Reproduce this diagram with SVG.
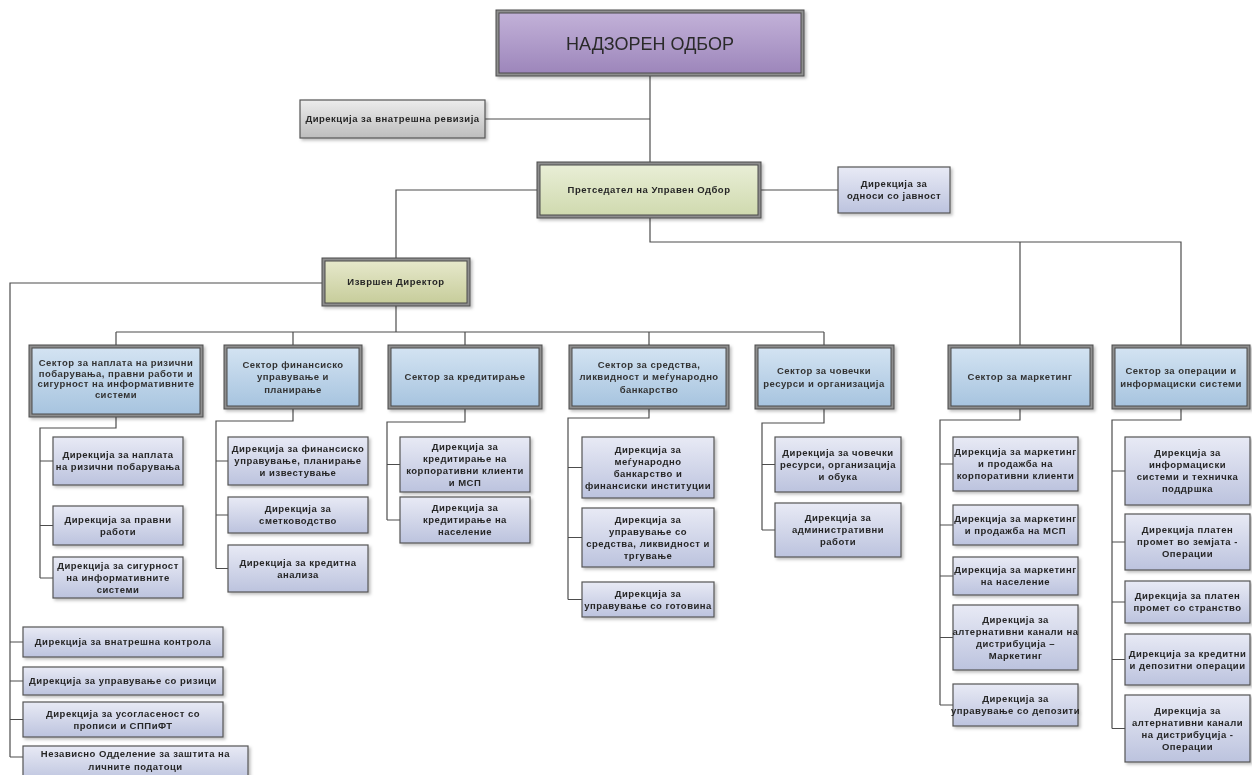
<svg xmlns="http://www.w3.org/2000/svg" width="1252" height="775" viewBox="0 0 1252 775">
<defs>
<linearGradient id="gPurple" x1="0" y1="0" x2="0" y2="1"><stop offset="0" stop-color="#c2b1d8"/><stop offset="1" stop-color="#9d86bb"/></linearGradient>
<linearGradient id="gGreen" x1="0" y1="0" x2="0" y2="1"><stop offset="0" stop-color="#e9eed6"/><stop offset="1" stop-color="#d0daaf"/></linearGradient>
<linearGradient id="gOlive" x1="0" y1="0" x2="0" y2="1"><stop offset="0" stop-color="#e6e8cb"/><stop offset="1" stop-color="#c7cd9b"/></linearGradient>
<linearGradient id="gBlue" x1="0" y1="0" x2="0" y2="1"><stop offset="0" stop-color="#d3e3f2"/><stop offset="1" stop-color="#a7c4df"/></linearGradient>
<linearGradient id="gLav" x1="0" y1="0" x2="0" y2="1"><stop offset="0" stop-color="#e8eaf5"/><stop offset="1" stop-color="#bcc3de"/></linearGradient>
<linearGradient id="gGray" x1="0" y1="0" x2="0" y2="1"><stop offset="0" stop-color="#ececec"/><stop offset="1" stop-color="#bdbdbd"/></linearGradient>
<filter id="sh" x="-10%" y="-10%" width="130%" height="140%"><feDropShadow dx="2" dy="2" stdDeviation="1.5" flood-color="#000" flood-opacity="0.25"/></filter>
</defs>
<style>
.frame{fill:#8e8e8e;stroke:#4a4a4a;stroke-width:1}
.inner{stroke:#4a4a4a;stroke-width:1}
.box{stroke:#555;stroke-width:1.2}
.con{fill:none;stroke:#4d4d4d;stroke-width:1.2}
text{font-family:"Liberation Sans",Arial,sans-serif;font-size:9.5px;fill:#262626;text-anchor:middle}
.b{font-weight:bold;letter-spacing:0.5px}
.s{font-weight:bold;letter-spacing:0.45px;fill:#333333}
.big{font-size:18px;fill:#2a2a2a}
</style>
<rect width="1252" height="775" fill="#ffffff"/>
<g id="connectors" class="con">
<path d="M650 76V162"/>
<path d="M485 119H650"/>
<path d="M761 190H838"/>
<path d="M537 190H396V258"/>
<path d="M650 218V242H1181V345M1020 242V345"/>
<path d="M396 306V332M116 332H824M116 332V345M293 332V345M465 332V345M649 332V345M824 332V345"/>
<path d="M322 283H10V757M10 642H23M10 681H23M10 719.5H23M10 757H23"/>
<path d="M116 417V428H40V578M40 461H53M40 525.5H53M40 578H53"/>
<path d="M293 409V421H216V568.5M216 461H228M216 515H228M216 568.5H228"/>
<path d="M465 409V422H387V520M387 464.5H400M387 520H400"/>
<path d="M649 409V418H568V599.5M568 467.5H582M568 537.5H582M568 599.5H582"/>
<path d="M824 409V423H762V530M762 464.5H775M762 530H775"/>
<path d="M1020 409V420H940V705M940 464H953M940 525H953M940 576H953M940 637.5H953M940 705H953"/>
<path d="M1181 409V420H1112V728.5M1112 471H1125M1112 542H1125M1112 602H1125M1112 659.5H1125M1112 728.5H1125"/>
</g>

<g id="nadzoren" filter="url(#sh)">
<rect class="frame" x="496" y="10" width="308" height="66"/>
<rect class="inner" x="499" y="13" width="302" height="60" fill="url(#gPurple)"/>
<text class="big" x="650" y="49.5">НАДЗОРЕН ОДБОР</text>
</g>
<g id="revizija" filter="url(#sh)">
<rect class="box" x="300" y="100" width="185" height="38" fill="url(#gGray)"/>
<text class="b" x="392.5" y="122.3">Дирекција за внатрешна ревизија</text>
</g>
<g id="pretsedatel" filter="url(#sh)">
<rect class="frame" x="537" y="162" width="224" height="56"/>
<rect class="inner" x="540" y="165" width="218" height="50" fill="url(#gGreen)"/>
<text class="b" x="649" y="193.3">Претседател на Управен Одбор</text>
</g>
<g id="odnosi" filter="url(#sh)">
<rect class="box" x="838" y="167" width="112" height="46" fill="url(#gLav)"/>
<text class="b" x="894" y="187.3">Дирекција за</text>
<text class="b" x="894" y="199.3">односи со јавност</text>
</g>
<g id="izvrshen" filter="url(#sh)">
<rect class="frame" x="322" y="258" width="148" height="48"/>
<rect class="inner" x="325" y="261" width="142" height="42" fill="url(#gOlive)"/>
<text class="b" x="396" y="285.3">Извршен Директор</text>
</g>

<g id="s1" filter="url(#sh)">
<rect class="frame" x="29" y="345" width="174" height="72"/>
<rect class="inner" x="32" y="348" width="168" height="66" fill="url(#gBlue)"/>
<text class="s" x="116" y="366">Сектор за наплата на ризични</text>
<text class="s" x="116" y="376.5">побарувања, правни работи и</text>
<text class="s" x="116" y="387">сигурност на информативните</text>
<text class="s" x="116" y="397.5">системи</text>
</g>
<g id="s2" filter="url(#sh)">
<rect class="frame" x="224" y="345" width="138" height="64"/>
<rect class="inner" x="227" y="348" width="132" height="58" fill="url(#gBlue)"/>
<text class="s" x="293" y="367.8">Сектор финансиско</text>
<text class="s" x="293" y="380.3">управување и</text>
<text class="s" x="293" y="392.8">планирање</text>
</g>
<g id="s3" filter="url(#sh)">
<rect class="frame" x="388" y="345" width="154" height="64"/>
<rect class="inner" x="391" y="348" width="148" height="58" fill="url(#gBlue)"/>
<text class="s" x="465" y="380.3">Сектор за кредитирање</text>
</g>
<g id="s4" filter="url(#sh)">
<rect class="frame" x="569" y="345" width="160" height="64"/>
<rect class="inner" x="572" y="348" width="154" height="58" fill="url(#gBlue)"/>
<text class="s" x="649" y="367.8">Сектор за средства,</text>
<text class="s" x="649" y="380.3">ликвидност и меѓународно</text>
<text class="s" x="649" y="392.8">банкарство</text>
</g>
<g id="s5" filter="url(#sh)">
<rect class="frame" x="755" y="345" width="139" height="64"/>
<rect class="inner" x="758" y="348" width="133" height="58" fill="url(#gBlue)"/>
<text class="s" x="824" y="374">Сектор за човечки</text>
<text class="s" x="824" y="386.5">ресурси и организација</text>
</g>
<g id="s6" filter="url(#sh)">
<rect class="frame" x="948" y="345" width="145" height="64"/>
<rect class="inner" x="951" y="348" width="139" height="58" fill="url(#gBlue)"/>
<text class="s" x="1020" y="380.3">Сектор за маркетинг</text>
</g>
<g id="s7" filter="url(#sh)">
<rect class="frame" x="1112" y="345" width="138" height="64"/>
<rect class="inner" x="1115" y="348" width="132" height="58" fill="url(#gBlue)"/>
<text class="s" x="1181" y="374">Сектор за операции и</text>
<text class="s" x="1181" y="386.5">информациски системи</text>
</g>

<g id="s1c1" filter="url(#sh)"><rect class="box" x="53" y="437" width="130" height="48" fill="url(#gLav)"/>
<text class="b" x="118" y="458.3">Дирекција за наплата</text><text class="b" x="118" y="470.3">на ризични побарувања</text></g>
<g id="s1c2" filter="url(#sh)"><rect class="box" x="53" y="506" width="130" height="39" fill="url(#gLav)"/>
<text class="b" x="118" y="522.8">Дирекција за правни</text><text class="b" x="118" y="534.8">работи</text></g>
<g id="s1c3" filter="url(#sh)"><rect class="box" x="53" y="557" width="130" height="41" fill="url(#gLav)"/>
<text class="b" x="118" y="568.8">Дирекција за сигурност</text><text class="b" x="118" y="580.8">на информативните</text><text class="b" x="118" y="592.8">системи</text></g>

<g id="s2c1" filter="url(#sh)"><rect class="box" x="228" y="437" width="140" height="48" fill="url(#gLav)"/>
<text class="b" x="298" y="452.3">Дирекција за финансиско</text><text class="b" x="298" y="464.3">управување, планирање</text><text class="b" x="298" y="476.3">и известување</text></g>
<g id="s2c2" filter="url(#sh)"><rect class="box" x="228" y="497" width="140" height="36" fill="url(#gLav)"/>
<text class="b" x="298" y="512.3">Дирекција за</text><text class="b" x="298" y="524.3">сметководство</text></g>
<g id="s2c3" filter="url(#sh)"><rect class="box" x="228" y="545" width="140" height="47" fill="url(#gLav)"/>
<text class="b" x="298" y="565.8">Дирекција за кредитна</text><text class="b" x="298" y="577.8">анализа</text></g>

<g id="s3c1" filter="url(#sh)"><rect class="box" x="400" y="437" width="130" height="55" fill="url(#gLav)"/>
<text class="b" x="465" y="449.8">Дирекција за</text><text class="b" x="465" y="461.8">кредитирање на</text><text class="b" x="465" y="473.8">корпоративни клиенти</text><text class="b" x="465" y="485.8">и МСП</text></g>
<g id="s3c2" filter="url(#sh)"><rect class="box" x="400" y="497" width="130" height="46" fill="url(#gLav)"/>
<text class="b" x="465" y="511.3">Дирекција за</text><text class="b" x="465" y="523.3">кредитирање на</text><text class="b" x="465" y="535.3">население</text></g>

<g id="s4c1" filter="url(#sh)"><rect class="box" x="582" y="437" width="132" height="61" fill="url(#gLav)"/>
<text class="b" x="648" y="452.8">Дирекција за</text><text class="b" x="648" y="464.8">меѓународно</text><text class="b" x="648" y="476.8">банкарство и</text><text class="b" x="648" y="488.8">финансиски институции</text></g>
<g id="s4c2" filter="url(#sh)"><rect class="box" x="582" y="508" width="132" height="59" fill="url(#gLav)"/>
<text class="b" x="648" y="522.8">Дирекција за</text><text class="b" x="648" y="534.8">управување со</text><text class="b" x="648" y="546.8">средства, ликвидност и</text><text class="b" x="648" y="558.8">тргување</text></g>
<g id="s4c3" filter="url(#sh)"><rect class="box" x="582" y="582" width="132" height="35" fill="url(#gLav)"/>
<text class="b" x="648" y="596.8">Дирекција за</text><text class="b" x="648" y="608.8">управување со готовина</text></g>

<g id="s5c1" filter="url(#sh)"><rect class="box" x="775" y="437" width="126" height="55" fill="url(#gLav)"/>
<text class="b" x="838" y="455.8">Дирекција за човечки</text><text class="b" x="838" y="467.8">ресурси, организација</text><text class="b" x="838" y="479.8">и обука</text></g>
<g id="s5c2" filter="url(#sh)"><rect class="box" x="775" y="503" width="126" height="54" fill="url(#gLav)"/>
<text class="b" x="838" y="521.3">Дирекција за</text><text class="b" x="838" y="533.3">административни</text><text class="b" x="838" y="545.3">работи</text></g>

<g id="s6c1" filter="url(#sh)"><rect class="box" x="953" y="437" width="125" height="54" fill="url(#gLav)"/>
<text class="b" x="1015.5" y="455.3">Дирекција за маркетинг</text><text class="b" x="1015.5" y="467.3">и продажба на</text><text class="b" x="1015.5" y="479.3">корпоративни клиенти</text></g>
<g id="s6c2" filter="url(#sh)"><rect class="box" x="953" y="505" width="125" height="40" fill="url(#gLav)"/>
<text class="b" x="1015.5" y="522.3">Дирекција за маркетинг</text><text class="b" x="1015.5" y="534.3">и продажба на МСП</text></g>
<g id="s6c3" filter="url(#sh)"><rect class="box" x="953" y="557" width="125" height="38" fill="url(#gLav)"/>
<text class="b" x="1015.5" y="573.3">Дирекција за маркетинг</text><text class="b" x="1015.5" y="585.3">на население</text></g>
<g id="s6c4" filter="url(#sh)"><rect class="box" x="953" y="605" width="125" height="65" fill="url(#gLav)"/>
<text class="b" x="1015.5" y="622.8">Дирекција за</text><text class="b" x="1015.5" y="634.8">алтернативни канали на</text><text class="b" x="1015.5" y="646.8">дистрибуција –</text><text class="b" x="1015.5" y="658.8">Маркетинг</text></g>
<g id="s6c5" filter="url(#sh)"><rect class="box" x="953" y="684" width="125" height="42" fill="url(#gLav)"/>
<text class="b" x="1015.5" y="702.3">Дирекција за</text><text class="b" x="1015.5" y="714.3">управување со депозити</text></g>

<g id="s7c1" filter="url(#sh)"><rect class="box" x="1125" y="437" width="125" height="68" fill="url(#gLav)"/>
<text class="b" x="1187.5" y="456.3">Дирекција за</text><text class="b" x="1187.5" y="468.3">информациски</text><text class="b" x="1187.5" y="480.3">системи и техничка</text><text class="b" x="1187.5" y="492.3">поддршка</text></g>
<g id="s7c2" filter="url(#sh)"><rect class="box" x="1125" y="514" width="125" height="56" fill="url(#gLav)"/>
<text class="b" x="1187.5" y="533.3">Дирекција платен</text><text class="b" x="1187.5" y="545.3">промет во земјата -</text><text class="b" x="1187.5" y="557.3">Операции</text></g>
<g id="s7c3" filter="url(#sh)"><rect class="box" x="1125" y="581" width="125" height="42" fill="url(#gLav)"/>
<text class="b" x="1187.5" y="599.3">Дирекција за платен</text><text class="b" x="1187.5" y="611.3">промет со странство</text></g>
<g id="s7c4" filter="url(#sh)"><rect class="box" x="1125" y="634" width="125" height="51" fill="url(#gLav)"/>
<text class="b" x="1187.5" y="656.8">Дирекција за кредитни</text><text class="b" x="1187.5" y="668.8">и депозитни операции</text></g>
<g id="s7c5" filter="url(#sh)"><rect class="box" x="1125" y="695" width="125" height="67" fill="url(#gLav)"/>
<text class="b" x="1187.5" y="713.8">Дирекција за</text><text class="b" x="1187.5" y="725.8">алтернативни канали</text><text class="b" x="1187.5" y="737.8">на дистрибуција -</text><text class="b" x="1187.5" y="749.8">Операции</text></g>

<g id="l1" filter="url(#sh)"><rect class="box" x="23" y="627" width="200" height="30" fill="url(#gLav)"/>
<text class="b" x="123" y="645.3">Дирекција за внатрешна контрола</text></g>
<g id="l2" filter="url(#sh)"><rect class="box" x="23" y="667" width="200" height="28" fill="url(#gLav)"/>
<text class="b" x="123" y="684.3">Дирекција за управување со ризици</text></g>
<g id="l3" filter="url(#sh)"><rect class="box" x="23" y="702" width="200" height="35" fill="url(#gLav)"/>
<text class="b" x="123" y="716.8">Дирекција за усогласеност со</text><text class="b" x="123" y="728.8">прописи и СППиФТ</text></g>
<g id="l4" filter="url(#sh)"><rect class="box" x="23" y="746" width="225" height="36" fill="url(#gLav)"/>
<text class="b" x="135.5" y="757.3">Независно Одделение за заштита на</text><text class="b" x="135.5" y="770.3">личните податоци</text></g>
</svg>
